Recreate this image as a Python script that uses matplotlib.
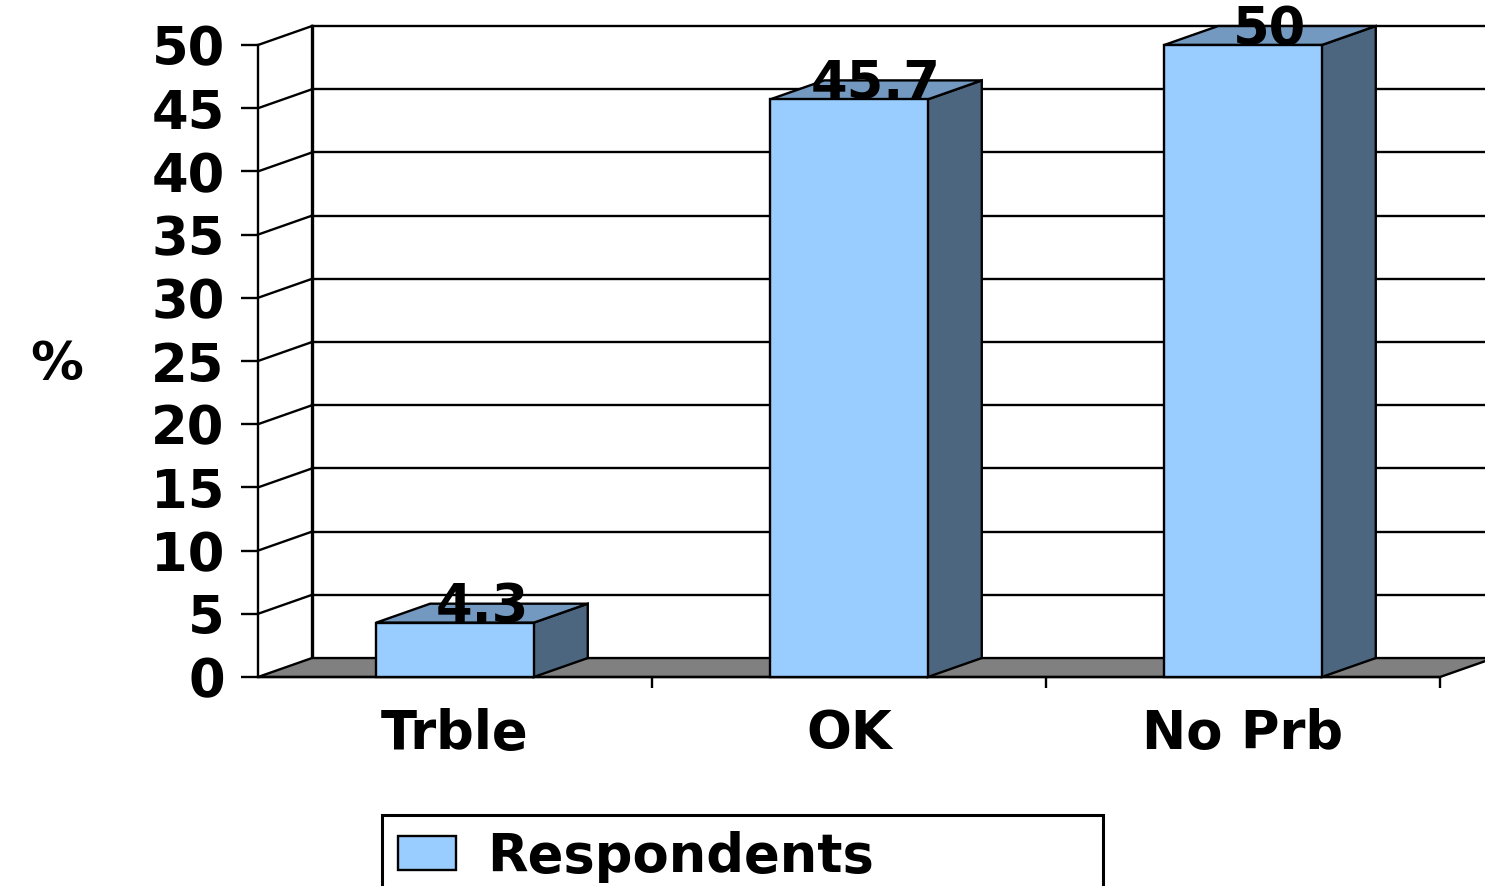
import matplotlib
matplotlib.use('Agg')
import matplotlib.pyplot as plt
from matplotlib.patches import Polygon, Patch

plt.rcParams['font.family'] = ['DejaVu Sans']
plt.rcParams['font.weight'] = 'bold'

categories = ['Trble', 'OK', 'No Prb']
values = [4.3, 45.7, 50]
value_labels = ['4.3', '45.7', '50']
series_name = 'Respondents'
yticks = list(range(0, 55, 5))

# fake 3d look: depth offset in data units
dx, dy = 0.137, 1.5
half_w = 0.2
front_c, top_c, side_c = '#99CCFF', '#7399C0', '#4D6680'
floor_c = '#808080'
fs = 38


def poly(ax, pts, fc, z, lw=1.7):
    ax.add_patch(Polygon(pts, closed=True, facecolor=fc, edgecolor='black',
                         linewidth=lw, zorder=z, clip_on=False))


fig = plt.figure(figsize=(14.85, 8.86), dpi=100)
ax = fig.add_axes([258 / 1485, (886 - 677) / 886, 1182 / 1485, 632 / 886])
n = len(categories)
x0, x1 = -0.5, n - 0.5
ax.set_xlim(x0, x1)
ax.set_ylim(0, 50)

for s in ['top', 'right']:
    ax.spines[s].set_visible(False)
ax.spines['left'].set_linewidth(1.7)
ax.spines['bottom'].set_linewidth(1.7)

# walls: grid lines on the back and left side
for v in yticks[1:]:
    ax.plot([x0 + dx, x1 + dx], [v + dy, v + dy], color='black', lw=1.7,
            zorder=1, clip_on=False)
    ax.plot([x0, x0 + dx], [v, v + dy], color='black', lw=1.7,
            zorder=1, clip_on=False)
ax.plot([x0 + dx, x0 + dx], [dy, 50 + dy], color='black', lw=2.4,
        zorder=1, clip_on=False)

# floor
poly(ax, [(x0, 0), (x1, 0), (x1 + dx, dy), (x0 + dx, dy)], floor_c, 1.5)

# bars
for i, v in enumerate(values):
    l, r = i - half_w, i + half_w
    poly(ax, [(r, 0), (r + dx, dy), (r + dx, v + dy), (r, v)], side_c, 3)
    poly(ax, [(l, v), (r, v), (r + dx, v + dy), (l + dx, v + dy)], top_c, 3)
    poly(ax, [(l, 0), (r, 0), (r, v), (l, v)], front_c, 3)
    ax.text(i + dx / 2, v, value_labels[i], ha='center', va='baseline',
            fontsize=fs, fontweight='bold', zorder=5)

# axes ticks
ax.set_yticks(yticks)
ax.tick_params(axis='y', direction='out', length=12, width=1.7,
               labelsize=fs, pad=12)
ax.set_xticks([x0 + 1 + k for k in range(n)])
ax.set_xticklabels([])
ax.tick_params(axis='x', which='major', direction='out', length=8, width=1.7)
ax.set_xticks(range(n), minor=True)
ax.set_xticklabels(categories, minor=True)
ax.tick_params(axis='x', which='minor', length=0, labelsize=fs, pad=22)

ax.set_ylabel('%', rotation=0, fontsize=fs, fontweight='bold', va='center')
ax.yaxis.set_label_coords(-0.17, 0.494)

# legend
handle = Patch(facecolor=front_c, edgecolor='black', linewidth=1.7,
               label=series_name)
leg = fig.legend(handles=[handle], loc='upper left', mode='expand',
                 bbox_to_anchor=(382 / 1485, (886 - 815) / 886, 721 / 1485, 0),
                 bbox_transform=fig.transFigure, borderaxespad=0,
                 fontsize=fs, handlelength=1.1, handleheight=0.62,
                 handletextpad=0.6, borderpad=0.3, fancybox=False,
                 framealpha=1, edgecolor='black')
leg.get_frame().set_linewidth(2.2)

plt.savefig('out.png', dpi=100)
